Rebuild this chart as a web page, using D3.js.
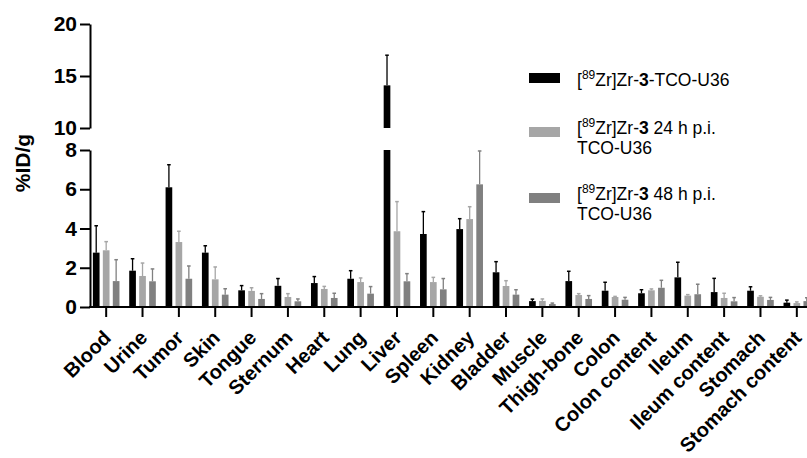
<!DOCTYPE html>
<html lang="en">

<head>
    <meta charset="UTF-8">
    <title>Biodistribution</title>
    <script src="https://d3js.org/d3.v7.min.js"></script>
    <style>
        body { margin: 0; background: #fff; }
        text { font-family: Arial, "Liberation Sans", Helvetica, sans-serif; }
    </style>
</head>

<body>
    <svg id="chart" width="807" height="458"></svg>

    <script>
        // organs on the x axis
        var organs = ["Blood", "Urine", "Tumor", "Skin", "Tongue", "Sternum", "Heart", "Lung", "Liver", "Spleen",
            "Kidney", "Bladder", "Muscle", "Thigh-bone", "Colon", "Colon content", "Ileum", "Ileum content",
            "Stomach", "Stomach content"];

        // mean %ID/g and SD for each group
        var tcoMean = [2.77, 1.85, 6.10, 2.77, 0.85, 1.08, 1.22, 1.44, 14.1, 3.72, 3.97, 1.77, 0.30, 1.32, 0.83, 0.70, 1.51, 0.76, 0.83, 0.22];
        var tcoSd = [1.37, 0.61, 1.15, 0.35, 0.24, 0.37, 0.33, 0.41, 2.9, 1.14, 0.53, 0.54, 0.10, 0.50, 0.43, 0.18, 0.77, 0.70, 0.20, 0.13];
        var h24Mean = [2.89, 1.58, 3.31, 1.41, 0.82, 0.51, 0.92, 1.27, 3.86, 1.27, 4.48, 1.07, 0.31, 0.61, 0.51, 0.85, 0.58, 0.46, 0.52, 0.20];
        var h24Sd = [0.44, 0.66, 0.55, 0.63, 0.16, 0.17, 0.13, 0.21, 1.51, 0.24, 0.63, 0.27, 0.10, 0.07, 0.03, 0.07, 0.05, 0.24, 0.05, 0.06];
        var h48Mean = [1.32, 1.31, 1.44, 0.63, 0.41, 0.29, 0.46, 0.68, 1.31, 0.90, 6.25, 0.63, 0.15, 0.41, 0.37, 0.98, 0.65, 0.29, 0.36, 0.30];
        var h48Sd = [1.09, 0.63, 0.65, 0.30, 0.27, 0.12, 0.24, 0.36, 0.39, 0.55, 1.70, 0.25, 0.05, 0.17, 0.12, 0.38, 0.51, 0.19, 0.13, 0.17];

        var lowTicks = [0, 2, 4, 6, 8];
        var highTicks = [10, 15, 20];

        var series = [
            { key: "tco", mean: tcoMean, sd: tcoSd, color: "#000000", lines: ["-TCO-U36"] },
            { key: "h24", mean: h24Mean, sd: h24Sd, color: "#a6a6a6", lines: [" 24 h p.i.", "TCO-U36"] },
            { key: "h48", mean: h48Mean, sd: h48Sd, color: "#808080", lines: [" 48 h p.i.", "TCO-U36"] }
        ];

        var svg = d3.select("#chart");

        // broken y axis: two linear pieces
        var yLow = d3.scaleLinear().domain([0, 8]).range([307, 150]);
        var yHigh = d3.scaleLinear().domain([10, 20]).range([128, 24]);
        var yOf = function (v) { return v > 9 ? yHigh(v) : yLow(Math.min(v, 8)); };

        var x = d3.scaleBand().domain(organs).range([88, 815]);
        var x1 = d3.scaleBand().domain(series.map(function (s) { return s.key; }))
            .range([0, 26.6]).paddingInner(0.33);
        var groupLeft = function (o) { return x(o) + x.bandwidth() / 2 - 13.3; };

        // bars
        series.forEach(function (s) {
            var g = svg.append("g").attr("fill", s.color);
            organs.forEach(function (o, i) {
                var v = s.mean[i];
                var bx = groupLeft(o) + x1(s.key);
                var bw = x1.bandwidth();
                g.append("rect")
                    .attr("x", bx).attr("width", bw)
                    .attr("y", yOf(Math.min(v, 8)))
                    .attr("height", yLow(0) - yOf(Math.min(v, 8)));
                if (v > 10) {
                    g.append("rect")
                        .attr("x", bx).attr("width", bw)
                        .attr("y", yHigh(v))
                        .attr("height", yHigh(10) - yHigh(v));
                }
                // upper error bar with a small cap
                var top = yOf(v + s.sd[i]);
                var cx = bx + bw / 2;
                g.append("line")
                    .attr("x1", cx).attr("x2", cx)
                    .attr("y1", yOf(v)).attr("y2", top)
                    .attr("stroke", s.color).attr("stroke-width", 1.3);
                g.append("line")
                    .attr("x1", cx - 1.8).attr("x2", cx + 1.8)
                    .attr("y1", top).attr("y2", top)
                    .attr("stroke", s.color).attr("stroke-width", 1.5);
            });
        });

        // axes
        function styleAxis(g) {
            g.selectAll("path, line").attr("stroke", "#000").attr("stroke-width", 2);
            g.selectAll("text").attr("fill", "#000")
                .style("font-size", "21px").style("font-weight", "bold")
                .style("font-family", "Arial, 'Liberation Sans', sans-serif");
        }

        svg.append("g").attr("transform", "translate(90,0)")
            .call(d3.axisLeft(yLow).tickValues(lowTicks).tickSize(10).tickSizeOuter(0).tickPadding(3))
            .call(styleAxis);
        svg.append("g").attr("transform", "translate(90,0)")
            .call(d3.axisLeft(yHigh).tickValues(highTicks).tickSize(10).tickSizeOuter(0).tickPadding(3))
            .call(styleAxis);

        var xAxis = svg.append("g").attr("transform", "translate(0,307)")
            .call(d3.axisBottom(x).tickSize(10).tickSizeOuter(0))
            .call(styleAxis);
        xAxis.select(".domain").attr("d", "M89,0H815");
        xAxis.selectAll(".tick text")
            .style("font-size", "20px")
            .attr("x", 0).attr("y", 0).attr("dy", 0)
            .attr("text-anchor", "end")
            .attr("transform", "translate(6,32) rotate(-45)");

        // y axis title
        svg.append("text")
            .attr("transform", "translate(30,163) rotate(-90)")
            .attr("text-anchor", "middle")
            .style("font-size", "21px").style("font-weight", "bold")
            .text("%ID/g");

        // legend
        var legendY = [86, 134, 200];
        var swatchY = [73, 127, 193];
        series.forEach(function (s, i) {
            svg.append("rect")
                .attr("x", 529).attr("y", swatchY[i])
                .attr("width", 31).attr("height", 10)
                .attr("fill", s.color);
            var t = svg.append("text")
                .attr("x", 577).attr("y", legendY[i])
                .style("font-size", "17.5px").attr("fill", "#000");
            t.append("tspan").text("[");
            t.append("tspan").attr("dy", -7).style("font-size", "12px").text("89");
            t.append("tspan").attr("dy", 7).text("Zr]Zr-");
            t.append("tspan").style("font-weight", "bold").text("3");
            t.append("tspan").text(s.lines[0]);
            if (s.lines.length > 1) {
                svg.append("text")
                    .attr("x", 577).attr("y", legendY[i] + 20)
                    .style("font-size", "17.5px").attr("fill", "#000")
                    .text(s.lines[1]);
            }
        });
    </script>
</body>

</html>
